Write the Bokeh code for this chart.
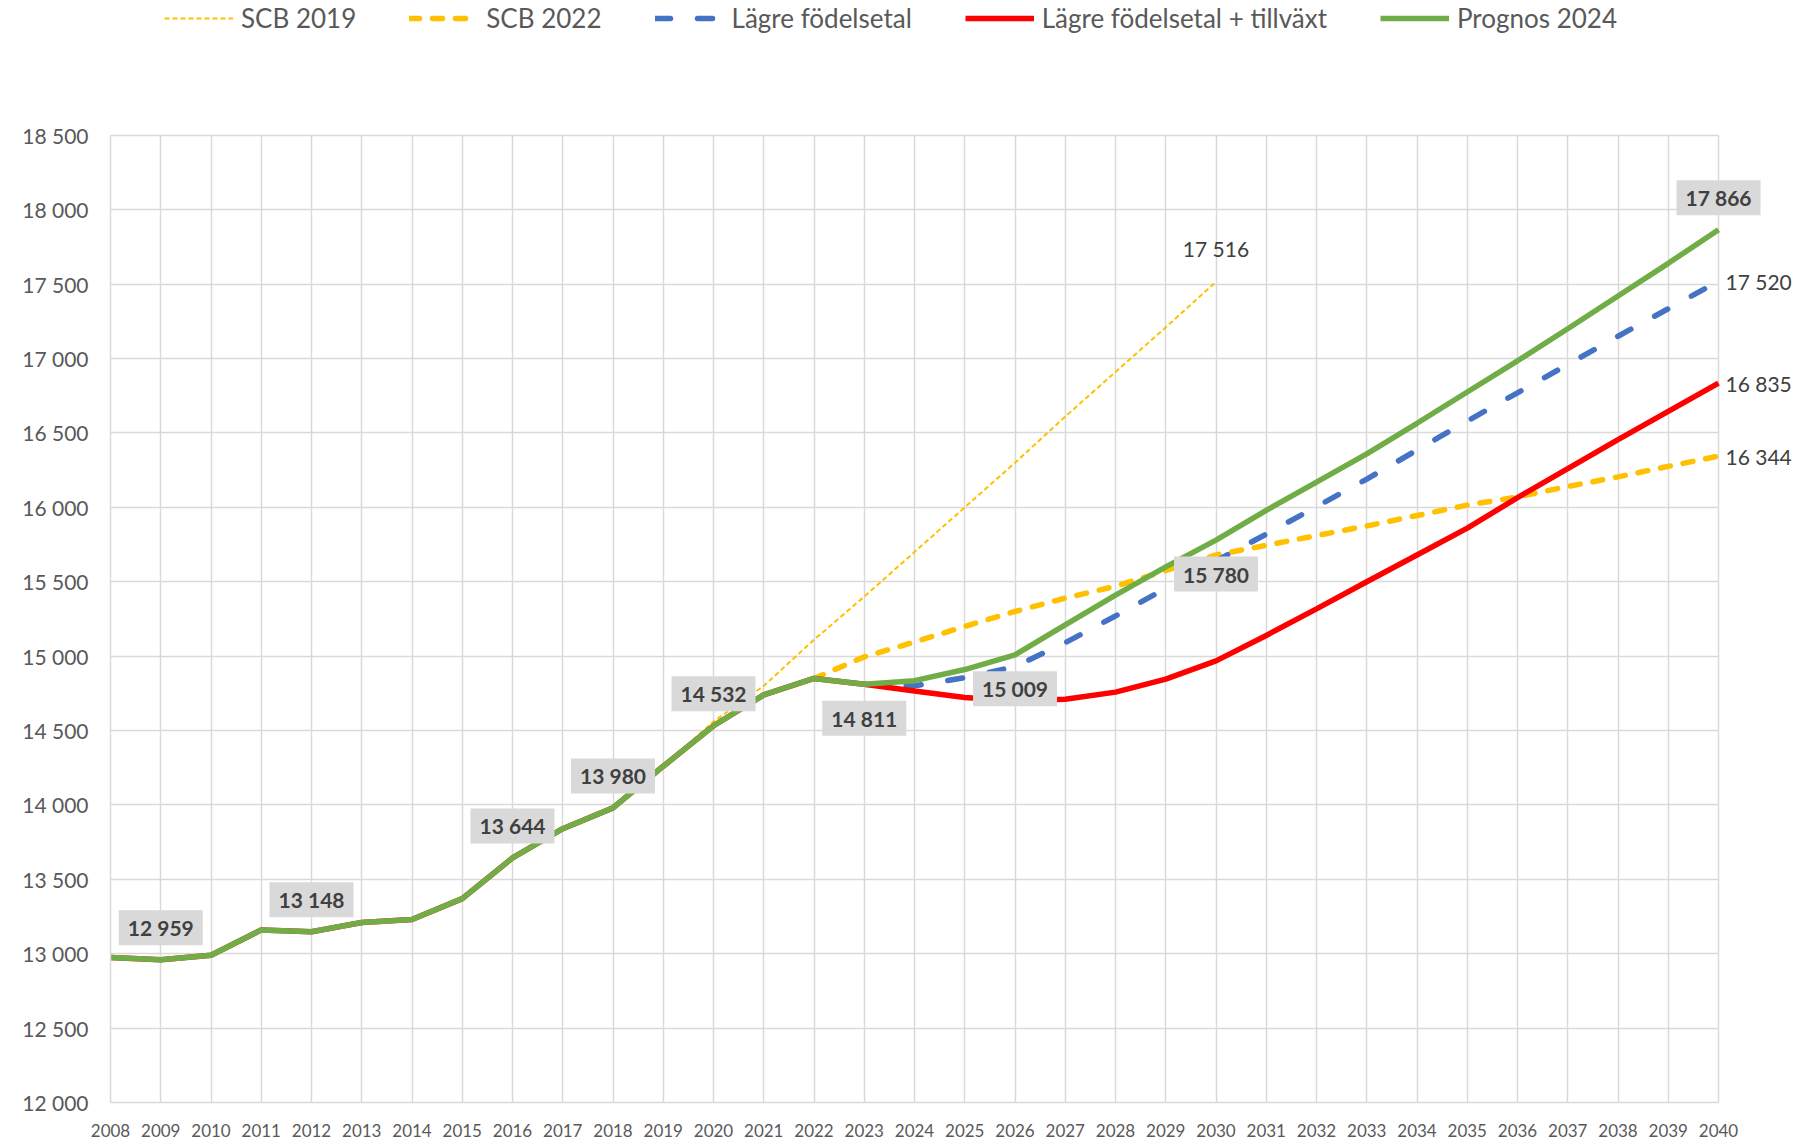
from bokeh.plotting import figure
from bokeh.models import Range1d, FixedTicker, Legend, LegendItem, Label
from bokeh.embed import file_html
from bokeh.resources import INLINE

nan = float("nan")

years = list(range(2008, 2041))

prognos_2024 = [12975, 12959, 12990, 13160, 13148, 13210, 13230, 13370, 13644, 13840,
                13980, 14260, 14532, 14740, 14850, 14811, 14835, 14910, 15009, 15210,
                15410, 15600, 15780, 15980, 16170, 16360, 16565, 16775, 16985, 17200,
                17420, 17640, 17866]

lagre_tillvaxt = [12975, 12959, 12990, 13160, 13148, 13210, 13230, 13370, 13644, 13840,
                  13980, 14260, 14532, 14740, 14850, 14811, 14766, 14722, 14700, 14710,
                  14758, 14845, 14968, 15139, 15318, 15500, 15680, 15860, 16065, 16260,
                  16455, 16645, 16835]

lagre_fodelsetal = [nan] * 15 + [14811, 14800, 14855, 14930, 15090, 15270, 15455, 15640,
                                 15820, 16005, 16190, 16385, 16580, 16770, 16960, 17150,
                                 17335, 17520]

scb_2022 = [nan] * 14 + [14850, 14995, 15095, 15200, 15300, 15390, 15470, 15575, 15680,
                         15745, 15810, 15875, 15945, 16015, 16070, 16140, 16205, 16275,
                         16344]

scb_2019 = [nan] * 11 + [14260, 14560, 14800, 15110, 15400, 15700, 16000, 16300, 16610,
                         16910, 17210, 17516] + [nan] * 10

y_ticks = list(range(12000, 18501, 500))

series_names = ["SCB 2019", "SCB 2022", "Lägre födelsetal", "Lägre födelsetal + tillväxt", "Prognos 2024"]

# labels on the Prognos 2024 line
green_label_years = [2009, 2012, 2016, 2018, 2020, 2023, 2026, 2030, 2040]
green_label_side = ["above", "above", "above", "above", "above", "below", "below", "below", "above"]


def fmt(v):
    return f"{int(round(v)):,}".replace(",", " ")


x0, x1 = years[0], years[-1]
y0, y1 = y_ticks[0], y_ticks[-1]

# frame extends past the data area so legend and outside labels are not clipped
p = figure(width=1815, height=1139, output_backend="svg", toolbar_location=None,
           x_range=Range1d(x0, x1 + 1.731), y_range=Range1d(y0, y1 + 906.5),
           min_border_left=110, min_border_right=10, min_border_top=0, min_border_bottom=36,
           background_fill_color="white", border_fill_color="white")
p.outline_line_color = None

grid_col = "#d9d9d9"
p.xgrid.ticker = FixedTicker(ticks=years)
p.ygrid.ticker = FixedTicker(ticks=y_ticks)
p.xgrid.cross_bounds = (y0, y1)
p.ygrid.cross_bounds = (x0, x1)
for g in (p.xgrid, p.ygrid):
    g.grid_line_color = grid_col
    g.grid_line_width = 1.5

p.xaxis.ticker = FixedTicker(ticks=years)
p.yaxis.ticker = FixedTicker(ticks=y_ticks)
p.xaxis.bounds = (x0, x1)
p.yaxis.bounds = (y0, y1)
p.yaxis.major_label_overrides = {t: fmt(t) for t in y_ticks}
p.xaxis.major_label_overrides = {y: str(y) for y in years}
for ax in (p.xaxis, p.yaxis):
    ax.axis_line_color = grid_col
    ax.axis_line_width = 1.5
    ax.major_tick_line_color = None
    ax.minor_tick_line_color = None
    ax.major_label_text_color = "#595959"
    ax.major_label_text_font = "Lato"
p.yaxis.major_label_text_font_size = "21px"
p.yaxis.major_label_standoff = 16
p.xaxis.major_label_text_font_size = "17px"
p.xaxis.major_label_standoff = 15

r1 = p.line(years, scb_2019, line_color="#ffc000", line_width=2, line_dash="5 3")
r2 = p.line(years, scb_2022, line_color="#ffc000", line_width=5.5, line_dash="10 13", line_cap="round")
r3 = p.line(years, lagre_fodelsetal, line_color="#4472c4", line_width=5.5, line_dash="15 27", line_cap="round")
r4 = p.line(years, lagre_tillvaxt, line_color="#ff0000", line_width=5.5)
r5 = p.line(years, prognos_2024, line_color="#70ad47", line_width=5.5)

legend = Legend(items=[LegendItem(label=n, renderers=[r]) for n, r in zip(series_names, [r1, r2, r3, r4, r5])],
                orientation="horizontal", location=(54, 1068))
legend.label_text_font = "Lato"
legend.label_text_font_size = "26px"
legend.label_text_color = "#595959"
legend.glyph_width = 69
legend.glyph_height = 20
legend.label_standoff = 8
legend.spacing = 53
legend.padding = 0
legend.margin = 0
legend.border_line_color = None
legend.background_fill_alpha = 0
p.add_layout(legend, "center")

label_color = "#404040"
box_color = "#d9d9d9"

for yr, side in zip(green_label_years, green_label_side):
    v = prognos_2024[years.index(yr)]
    p.add_layout(Label(x=yr, y=v, text=fmt(v), x_offset=0, y_offset=(32 if side == "above" else -34),
                       text_align="center", text_baseline="middle",
                       text_font="Lato", text_font_style="bold", text_font_size="21px",
                       text_color=label_color, background_fill_color=box_color,
                       padding=dict(left=9, right=9, top=5, bottom=5)))

end_labels = [(scb_2019, 2030, "above"), (lagre_fodelsetal, 2040, "right"),
              (lagre_tillvaxt, 2040, "right"), (scb_2022, 2040, "right")]
for ser, yr, side in end_labels:
    v = ser[years.index(yr)]
    if side == "above":
        kw = dict(x_offset=0, y_offset=33, text_align="center")
    else:
        kw = dict(x_offset=7, y_offset=0, text_align="left")
    p.add_layout(Label(x=yr, y=v, text=fmt(v), text_baseline="middle",
                       text_font="Lato", text_font_size="21px", text_color=label_color, **kw))

open("out.html", "w").write(file_html(p, INLINE))
